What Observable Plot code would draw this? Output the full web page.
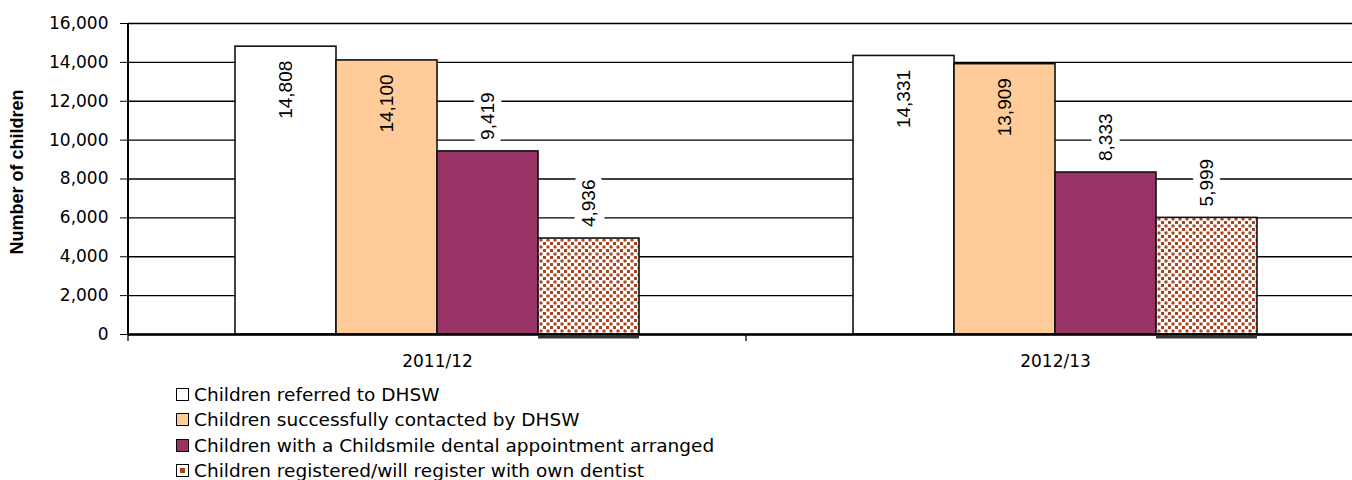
<!DOCTYPE html>
<html><head><meta charset="utf-8">
<script src="https://cdn.jsdelivr.net/npm/d3@7"></script>
<script src="https://cdn.jsdelivr.net/npm/@observablehq/plot@0.6"></script>
<style>
body{margin:0;background:#fff;}
#legend{padding-left:176px;padding-top:5px;font-family:"DejaVu Sans";font-size:18.5px;color:#000;}
.row{display:flex;align-items:center;height:25.3px;white-space:nowrap;}
.row svg{margin-right:5px;flex:none;}
</style></head><body>
<div id="chart"></div><div id="legend"></div>
<script>
const years = ["2011/12", "2012/13"];
const series = [
  "Children referred to DHSW",
  "Children successfully contacted by DHSW",
  "Children with a Childsmile dental appointment arranged",
  "Children registered/will register with own dentist"
];
const referred = [14808, 14331];
const contacted = [14100, 13909];
const appointment = [9419, 8333];
const registered = [4936, 5999];
const yTicks = [0, 2000, 4000, 6000, 8000, 10000, 12000, 14000, 16000];
const colors = ["#ffffff", "#ffcc99", "#993366", "url(#dots)"];
const dotColor = "#a8431c";

const seriesValues = [referred, contacted, appointment, registered];
const rows = years.flatMap((yr, i) => series.map((s, j) => ({year: yr, series: s, value: seriesValues[j][i]})));
const inside = rows.filter(d => d.value > 12000);
const outside = rows.filter(d => d.value <= 12000);
const fmt = d3.format(",");

const W = 1352, H = 377, ML = 128, MT = 23, MB = 43;
const chart = Plot.plot({
  width: W, height: H,
  marginLeft: ML, marginTop: MT, marginBottom: MB, marginRight: -12,
  style: {fontFamily: "DejaVu Sans", fontSize: "17px", color: "black", background: "white"},
  fx: {domain: years, padding: 0, label: null, tickSize: 0, tickPadding: 20},
  x: {domain: series, paddingInner: 0, paddingOuter: 1.044, axis: null},
  y: {domain: [0, 16000], ticks: yTicks, tickFormat: fmt, tickSize: 8, tickPadding: 12, label: null},
  color: {domain: series, range: colors},
  marks: [
    Plot.gridY(yTicks, {stroke: "#000", strokeOpacity: 1, strokeWidth: 1.4}),
    Plot.barY(rows, {fx: "year", x: "series", y: "value", fill: "series", stroke: "#111", strokeWidth: 1.6}),
    Plot.ruleY([0], {stroke: "#000", strokeWidth: 2.5}),
    Plot.tickY(rows.filter(d => d.series === series[3]), {fx: "year", x: "series", y: () => 0, dy: 2.5, stroke: "#333", strokeWidth: 3}),
    Plot.text(inside, {fx: "year", x: "series", y: "value", text: d => fmt(d.value), rotate: -90, textAnchor: "end", lineAnchor: "middle", dy: 14, fontFamily: "Liberation Sans", fontSize: 19, fill: "#000"}),
    Plot.text(outside, {fx: "year", x: "series", y: "value", text: d => fmt(d.value), rotate: -90, textAnchor: "start", lineAnchor: "middle", dy: -11.5, fontFamily: "Liberation Sans", fontSize: 19, fill: "#000", stroke: "white", strokeWidth: 15, paintOrder: "stroke", strokeLinejoin: "round"}),
    Plot.text(["Number of children"], {fx: () => years[0], text: d => d, frameAnchor: "left", rotate: -90, lineAnchor: "top", textAnchor: "middle", dx: -118, dy: -7, fontFamily: "Liberation Sans", fontWeight: "bold", fontSize: 18, fill: "#000"})
  ]
});
document.getElementById("chart").appendChild(chart);

// pattern definition
const svg = d3.select(chart);
svg.insert("defs", ":first-child").html(
  `<pattern id="dots" width="7" height="7" patternUnits="userSpaceOnUse">
     <rect width="7" height="7" fill="white"/>
     <rect x="0.5" y="0.5" width="3" height="3" fill="${dotColor}"/>
     <rect x="4" y="4" width="3" height="3" fill="${dotColor}"/>
   </pattern>`);

// axis line and category boundary ticks from the scales
const ys = chart.scale("y");
const fxs = chart.scale("fx");
const g = svg.append("g").attr("stroke", "#000");
g.append("line").attr("x1", ML).attr("x2", ML).attr("y1", ys.apply(16000)).attr("y2", ys.apply(0) + 1).attr("stroke-width", 2);
const bounds = years.map(y => fxs.apply(y)).concat([fxs.apply(years[years.length - 1]) + fxs.bandwidth]);
bounds.forEach(b => g.append("line").attr("x1", b).attr("x2", b).attr("y1", ys.apply(0)).attr("y2", ys.apply(0) + 7).attr("stroke-width", 1.3));

// legend
const legend = document.getElementById("legend");
series.forEach((s, j) => {
  const row = document.createElement("div");
  row.className = "row";
  const sw = j === 3
    ? `<svg width="13" height="13"><rect x="0.5" y="0.5" width="12" height="12" fill="white" stroke="#000"/><rect x="4" y="4" width="5" height="5" fill="${dotColor}"/></svg>`
    : `<svg width="13" height="13"><rect x="0.5" y="0.5" width="12" height="12" fill="${colors[j]}" stroke="#000"/></svg>`;
  row.innerHTML = sw + `<span>${s}</span>`;
  legend.appendChild(row);
});
</script>
</body></html>
